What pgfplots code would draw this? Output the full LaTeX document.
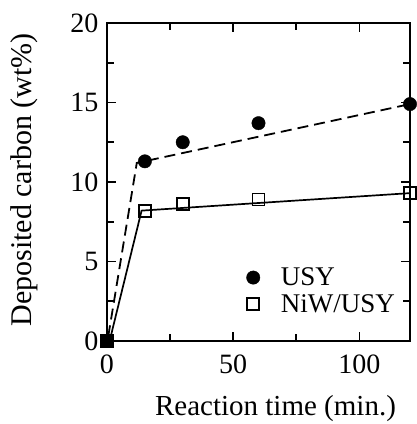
\documentclass[border=0pt]{standalone}
\usepackage{pgfplots}
\pgfplotsset{compat=1.18}
\usepackage{fontspec}
\setmainfont{Liberation Serif}
\begin{document}
\begin{tikzpicture}
\begin{axis}[
  name=ax,
  scale only axis,
  width=303pt, height=318pt,
  xmin=0, xmax=120, ymin=0, ymax=20,
  xtick={0,50,100}, ytick={0,5,10,15,20},
  minor xtick={25,75}, minor ytick={2.5,7.5,12.5,17.5},
  tick align=inside,
  major tick length=9pt, minor tick length=7pt,
  every tick/.style={line width=1.8pt, black},
  axis line style={line width=2.2pt},
  tick label style={font=\fontsize{28}{28}\selectfont},
  /pgf/number format/assume math mode=true,
  xticklabel style={yshift=-10pt},
  yticklabel style={xshift=-5pt},
  xlabel={Reaction time (min.)},
  ylabel={Deposited carbon (wt\%)},
  xlabel style={font=\fontsize{29}{29}\selectfont, xshift=17pt, yshift=-15pt},
  ylabel style={font=\fontsize{30}{30}\selectfont, yshift=26pt, xshift=2pt},
  clip=false,
  legend style={draw=none, fill=none, at={(0.45,0.24)}, anchor=north west,
    font=\fontsize{27}{27}\selectfont, row sep=5pt, column sep=20pt,
    nodes={inner sep=1pt}},
  legend cell align=left,
]
% fitted trends
\addplot[black, line width=1.8pt, dash pattern=on 11pt off 6pt, forget plot]
  coordinates {(0.5,0.3) (11.8,11.2) (120,14.9)};
\addplot[black, line width=1.7pt, forget plot]
  coordinates {(1.5,0.3) (13.7,8.2) (120,9.3)};
% measured points
\addplot[only marks, mark=*, mark size=6.7pt, black]
  coordinates {(15,11.3) (30,12.5) (60,13.7) (120,14.9)};
\addlegendentry{USY}
\addplot[only marks, mark=square, mark size=6pt, black, mark options={line width=1.8pt, fill=white}]
  coordinates {(15,8.2) (30,8.6) (60,8.9) (120,9.3)};
\addlegendentry{NiW/USY}
\addplot[only marks, mark=square*, mark size=6.5pt, black, forget plot]
  coordinates {(0,0)};
\end{axis}
\pgfresetboundingbox
\path[use as bounding box] (ax.south west) ++(-107pt,-83pt) rectangle ++(416pt,424pt);
\end{tikzpicture}
\end{document}
